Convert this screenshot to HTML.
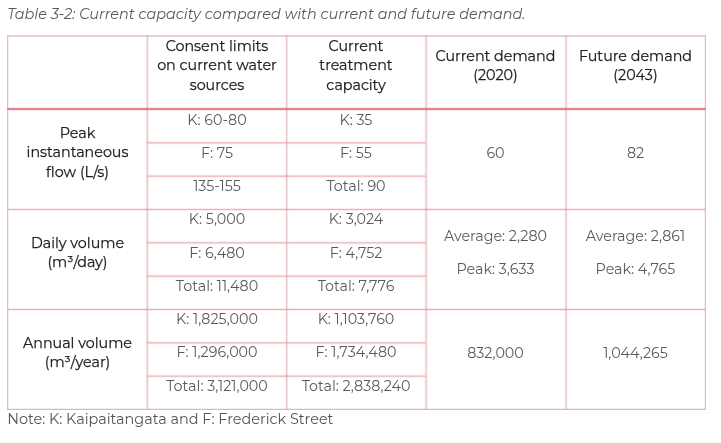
<!DOCTYPE html>
<html><head><meta charset="utf-8"><style>
html,body{margin:0;padding:0;background:#fff;width:721px;height:443px;overflow:hidden}
svg{display:block}
text{font-family:"Montserrat","Liberation Sans",sans-serif;font-size:14.3px}
.cap{font-style:italic;fill:#585858}
.h{fill:#1e1e1e;stroke:#1e1e1e;stroke-width:0.25px;text-anchor:middle;font-weight:400}
.d{fill:#5a5a5a;text-anchor:middle;font-weight:400}
.note{fill:#555555}
</style></head><body>
<svg width="721" height="443" viewBox="0 0 721 443">
<defs>
<filter id="lb" x="0" y="0" width="100%" height="100%" color-interpolation-filters="sRGB"><feConvolveMatrix order="3" kernelMatrix="1 4 1 4 16 4 1 4 1" divisor="36" edgeMode="none" preserveAlpha="false"/></filter>
</defs>
<rect x="0" y="0" width="721" height="443" fill="#fff"/>
<g filter="url(#lb)">
<rect x="7" y="35.4" width="699" height="1" fill="#e48a8e"/>
<rect x="7" y="35.4" width="1" height="374.6" fill="#dc9ca0"/>
<rect x="146.8" y="35.4" width="1" height="374.6" fill="#dc9ca0"/>
<rect x="286.2" y="35.4" width="1" height="374.6" fill="#dc9ca0"/>
<rect x="425.6" y="35.4" width="1" height="374.6" fill="#dc9ca0"/>
<rect x="565.5" y="35.4" width="1" height="374.6" fill="#dc9ca0"/>
<rect x="705" y="35.4" width="1" height="374.6" fill="#dc9ca0"/>
<rect x="7" y="108" width="699" height="2" fill="#dc6c74"/>
<rect x="7" y="209" width="699" height="1" fill="#e48a8e"/>
<rect x="7" y="309" width="699" height="1" fill="#e48a8e"/>
<rect x="7" y="409" width="699" height="1" fill="#e48a8e"/>
<rect x="146.8" y="142.33" width="278.8" height="1" fill="#e48a8e"/>
<rect x="146.8" y="175.67" width="278.8" height="1" fill="#e48a8e"/>
<rect x="146.8" y="242.33" width="278.8" height="1" fill="#e48a8e"/>
<rect x="146.8" y="275.67" width="278.8" height="1" fill="#e48a8e"/>
<rect x="146.8" y="342.33" width="278.8" height="1" fill="#e48a8e"/>
<rect x="146.8" y="375.67" width="278.8" height="1" fill="#e48a8e"/>
</g>
<g>
<text x="7.2" y="19.1" class="cap" style="font-size:14.45px" textLength="518.19" lengthAdjust="spacingAndGlyphs">Table 3-2: Current capacity compared with current and future demand.</text>
<text x="217.00" y="51.10" class="h" textLength="102.64" lengthAdjust="spacingAndGlyphs">Consent limits</text>
<text x="217.00" y="70.40" class="h" textLength="119.69" lengthAdjust="spacingAndGlyphs">on current water</text>
<text x="217.00" y="90.00" class="h" textLength="54.64" lengthAdjust="spacingAndGlyphs">sources</text>
<text x="356.00" y="51.10" class="h" textLength="54.78" lengthAdjust="spacingAndGlyphs">Current</text>
<text x="356.00" y="70.40" class="h" textLength="73.30" lengthAdjust="spacingAndGlyphs">treatment</text>
<text x="356.00" y="90.00" class="h" textLength="59.28" lengthAdjust="spacingAndGlyphs">capacity</text>
<text x="495.50" y="60.60" class="h" textLength="119.81" lengthAdjust="spacingAndGlyphs">Current demand</text>
<text x="495.50" y="79.60" class="h" textLength="44.52" lengthAdjust="spacingAndGlyphs">(2020)</text>
<text x="635.50" y="60.60" class="h" textLength="113.05" lengthAdjust="spacingAndGlyphs">Future demand</text>
<text x="635.50" y="79.60" class="h" textLength="44.27" lengthAdjust="spacingAndGlyphs">(2043)</text>
<text x="77.50" y="138.20" class="h" textLength="35.50" lengthAdjust="spacingAndGlyphs">Peak</text>
<text x="77.50" y="157.40" class="h" textLength="101.92" lengthAdjust="spacingAndGlyphs">instantaneous</text>
<text x="77.50" y="176.60" class="h" textLength="62.77" lengthAdjust="spacingAndGlyphs">flow (L/s)</text>
<text x="77.50" y="247.80" class="h" textLength="93.12" lengthAdjust="spacingAndGlyphs">Daily volume</text>
<text x="77.50" y="267.00" class="h" textLength="60.16" lengthAdjust="spacingAndGlyphs">(m³/day)</text>
<text x="77.50" y="347.80" class="h" textLength="108.98" lengthAdjust="spacingAndGlyphs">Annual volume</text>
<text x="77.50" y="367.00" class="h" textLength="65.48" lengthAdjust="spacingAndGlyphs">(m³/year)</text>
<text x="217.00" y="124.60" class="d" textLength="59.28" lengthAdjust="spacingAndGlyphs">K: 60-80</text>
<text x="356.00" y="124.60" class="d" textLength="32.97" lengthAdjust="spacingAndGlyphs">K: 35</text>
<text x="217.00" y="157.80" class="d" textLength="32.08" lengthAdjust="spacingAndGlyphs">F: 75</text>
<text x="356.00" y="157.80" class="d" textLength="31.95" lengthAdjust="spacingAndGlyphs">F: 55</text>
<text x="217.00" y="190.80" class="d" textLength="47.67" lengthAdjust="spacingAndGlyphs">135-155</text>
<text x="356.00" y="190.80" class="d" textLength="59.14" lengthAdjust="spacingAndGlyphs">Total: 90</text>
<text x="217.00" y="224.00" class="d" textLength="56.31" lengthAdjust="spacingAndGlyphs">K: 5,000</text>
<text x="356.00" y="224.00" class="d" textLength="54.59" lengthAdjust="spacingAndGlyphs">K: 3,024</text>
<text x="217.00" y="257.50" class="d" textLength="55.72" lengthAdjust="spacingAndGlyphs">F: 6,480</text>
<text x="356.00" y="257.50" class="d" textLength="52.72" lengthAdjust="spacingAndGlyphs">F: 4,752</text>
<text x="217.00" y="290.80" class="d" textLength="82.31" lengthAdjust="spacingAndGlyphs">Total: 11,480</text>
<text x="356.00" y="290.80" class="d" textLength="76.75" lengthAdjust="spacingAndGlyphs">Total: 7,776</text>
<text x="217.00" y="323.80" class="d" textLength="81.89" lengthAdjust="spacingAndGlyphs">K: 1,825,000</text>
<text x="356.00" y="323.80" class="d" textLength="76.67" lengthAdjust="spacingAndGlyphs">K: 1,103,760</text>
<text x="217.00" y="357.30" class="d" textLength="81.11" lengthAdjust="spacingAndGlyphs">F: 1,296,000</text>
<text x="356.00" y="357.30" class="d" textLength="80.97" lengthAdjust="spacingAndGlyphs">F: 1,734,480</text>
<text x="217.00" y="390.70" class="d" textLength="101.59" lengthAdjust="spacingAndGlyphs">Total: 3,121,000</text>
<text x="356.00" y="390.70" class="d" textLength="108.73" lengthAdjust="spacingAndGlyphs">Total: 2,838,240</text>
<text x="495.50" y="157.60" class="d" textLength="18.17" lengthAdjust="spacingAndGlyphs">60</text>
<text x="635.50" y="157.60" class="d" textLength="17.25" lengthAdjust="spacingAndGlyphs">82</text>
<text x="495.50" y="240.90" class="d" textLength="102.98" lengthAdjust="spacingAndGlyphs">Average: 2,280</text>
<text x="635.50" y="240.90" class="d" textLength="99.27" lengthAdjust="spacingAndGlyphs">Average: 2,861</text>
<text x="495.50" y="273.50" class="d" textLength="77.97" lengthAdjust="spacingAndGlyphs">Peak: 3,633</text>
<text x="635.50" y="273.50" class="d" textLength="79.80" lengthAdjust="spacingAndGlyphs">Peak: 4,765</text>
<text x="495.50" y="357.80" class="d" textLength="56.66" lengthAdjust="spacingAndGlyphs">832,000</text>
<text x="635.50" y="357.80" class="d" textLength="64.75" lengthAdjust="spacingAndGlyphs">1,044,265</text>
<text x="7.2" y="423.6" class="note" style="font-size:14.42px" textLength="326.27" lengthAdjust="spacingAndGlyphs">Note: K: Kaipaitangata and F: Frederick Street</text>
</g>
</svg>
</body></html>
